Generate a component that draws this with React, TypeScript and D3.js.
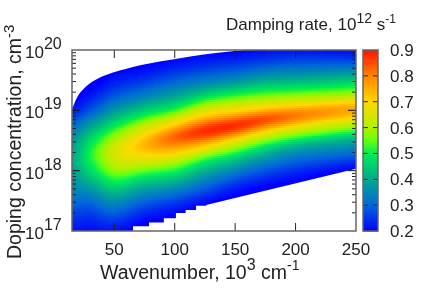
import React from 'react';
import * as d3 from 'd3';

// Damping rate. Each list is one wavenumber, going across the
// bright ridge: offsets are in decades of doping from ridgeLog at that wavenumber.
const wavenumbers = [15, 30, 50, 75, 100, 125, 150, 175, 200, 225, 250];
const ridgeLog = [18.2, 18.25, 18.32, 18.43, 18.56, 18.65, 18.74, 18.84, 18.91, 18.97, 19.02];
const offsets = [-1.5, -1.25, -1, -0.75, -0.5, -0.25, 0, 0.25, 0.5, 0.75, 1, 1.25, 1.5];
const dampingRate = [
  [0.18, 0.21, 0.25, 0.3, 0.35, 0.38, 0.4, 0.38, 0.32, 0.24, 0.19, 0.18, 0.18],
  [0.18, 0.21, 0.25, 0.31, 0.39, 0.47, 0.51, 0.47, 0.38, 0.28, 0.22, 0.18, 0.18],
  [0.19, 0.23, 0.3, 0.39, 0.5, 0.6, 0.64, 0.57, 0.45, 0.34, 0.26, 0.21, 0.18],
  [0.17, 0.21, 0.28, 0.38, 0.51, 0.66, 0.74, 0.65, 0.49, 0.36, 0.27, 0.21, 0.18],
  [0.17, 0.21, 0.29, 0.41, 0.55, 0.72, 0.83, 0.67, 0.48, 0.36, 0.27, 0.21, 0.18],
  [0.15, 0.19, 0.27, 0.37, 0.5, 0.71, 0.88, 0.72, 0.53, 0.37, 0.27, 0.21, 0.18],
  [0.15, 0.18, 0.24, 0.34, 0.48, 0.68, 0.88, 0.7, 0.52, 0.36, 0.26, 0.2, 0.18],
  [0.15, 0.17, 0.23, 0.32, 0.45, 0.65, 0.85, 0.66, 0.49, 0.35, 0.25, 0.2, 0.18],
  [0.15, 0.17, 0.22, 0.3, 0.42, 0.63, 0.81, 0.63, 0.46, 0.33, 0.24, 0.19, 0.18],
  [0.13, 0.16, 0.21, 0.3, 0.42, 0.62, 0.78, 0.6, 0.44, 0.31, 0.22, 0.18, 0.18],
  [0.12, 0.15, 0.2, 0.3, 0.42, 0.62, 0.76, 0.58, 0.43, 0.29, 0.2, 0.18, 0.18],
];

// edges of the region that has data
const upperK = [15, 20, 25.5, 33.8, 44.8, 58.6, 72.3, 94.4, 134, 165, 250];
const upperLog = [19.02, 19.24, 19.375, 19.5, 19.6, 19.68, 19.75, 19.83, 19.95, 20, 20];
const stairK = [15, 65.5, 78.7, 91, 101, 109, 117.6, 126];
const stairLog = [17, 17, 17.08, 17.14, 17.21, 17.3, 17.35, 17.42];
const slopeK = [126, 250];
const slopeLog = [17.43, 18.03];

const xTicks = [50, 100, 150, 200, 250];
const yMajor = [17, 18, 19, 20];
const barTicks = [0.2, 0.3, 0.4, 0.5, 0.6, 0.7, 0.8, 0.9];

const colorStops = [0.2, 0.3, 0.4, 0.5, 0.55, 0.6, 0.7, 0.8, 0.9];
const colorValues = ['#0000ff', '#0068d8', '#00aa90', '#00ee55', '#66ff10', '#b4f000', '#ffd800', '#ff8400', '#ff1400'];

const left = 72, right = 356, top = 50, bottom = 231;
const barLeft = 363, barRight = 378;
const FONT = '"Liberation Sans", Arial, sans-serif';
const INK = '#222';

const x = d3.scaleLinear().domain([15, 250]).range([left, right]);
const y = d3.scaleLog().domain([1e17, 1e20]).range([bottom, top]);
const color = d3.scaleLinear<string>().domain(colorStops).range(colorValues).clamp(true);
const barY = d3.scaleLinear().domain([0.2, 0.9]).range([bottom, top]);

const colIndex = d3.scaleLinear().domain(wavenumbers).range(wavenumbers.map((_, i) => i)).clamp(true);
const rowIndex = d3.scaleLinear().domain(offsets).range(offsets.map((_, i) => i)).clamp(true);

function spline(p: number[], t: number) {
  const i = Math.min(Math.floor(t), p.length - 2);
  const f = t - i;
  const a = p[Math.max(i - 1, 0)], b = p[i], c = p[i + 1], d = p[Math.min(i + 2, p.length - 1)];
  return b + 0.5 * f * (c - a + f * (2 * a - 5 * b + 4 * c - d + f * (3 * (b - c) + d - a)));
}

function rateAt(k: number, logN: number) {
  const t = colIndex(k);
  const r = rowIndex(logN - spline(ridgeLog, t));
  return spline(dampingRate.map(col => spline(col, r)), t);
}

const logY = (v: number) => y(Math.pow(10, v));

function regionPath() {
  const up = d3.line<number>().x(k => x(k)).y((_, i) => logY(upperLog[i])).curve(d3.curveMonotoneX)(upperK)!;
  const slope = slopeK.map((k, i) => `${x(k)},${logY(slopeLog[i])}`).reverse();
  const stairs = d3.line<number>().x(k => x(k)).y((_, i) => logY(stairLog[stairLog.length - 1 - i])).curve(d3.curveStepAfter)([...stairK].reverse())!;
  return `${up}L${slope.join('L')}L${stairs.slice(1)}Z`;
}

function cells() {
  const out: React.ReactElement[] = [];
  const step = 2;
  for (let px = left; px < right; px += step) {
    for (let py = top; py < bottom; py += step) {
      const k = x.invert(px + step / 2);
      const n = Math.log10(y.invert(py + step / 2));
      out.push(<rect key={`${px}-${py}`} x={px} y={py} width={step} height={step} fill={color(rateAt(k, n))} />);
    }
  }
  return out;
}

export default function App() {
  const minor = y.ticks().filter(v => !yMajor.includes(Math.round(Math.log10(v) * 1000) / 1000));
  const barRows = d3.range(top, bottom);
  return (
    <svg width={428} height={297} style={{ position: 'absolute', left: 0, top: 0 }} fontFamily={FONT} fill={INK}>
      <defs>
        <clipPath id="region"><path d={regionPath()} /></clipPath>
        <filter id="soft" x="0" y="0" width="100%" height="100%"><feGaussianBlur stdDeviation="0.45" /></filter>
      </defs>
      <g filter="url(#soft)">
        <rect width={428} height={297} fill="#fff" />
        <g clipPath="url(#region)" shapeRendering="crispEdges">{cells()}</g>

        {xTicks.slice(0, -1).map(t => (
          <g key={t} stroke="#222" strokeWidth={1}>
            <line x1={x(t)} x2={x(t)} y1={bottom} y2={bottom - 8} />
            <line x1={x(t)} x2={x(t)} y1={top} y2={top + 8} />
          </g>
        ))}
        {minor.map(v => (
          <g key={v} stroke="#222" strokeWidth={1}>
            <line x1={left} x2={left + 4} y1={y(v)} y2={y(v)} />
            <line x1={right} x2={right - 4} y1={y(v)} y2={y(v)} />
          </g>
        ))}
        {yMajor.slice(1, -1).map(t => (
          <g key={t} stroke="#111" strokeWidth={1}>
            <line x1={left} x2={left + 8} y1={logY(t)} y2={logY(t)} />
            <line x1={right} x2={right - 8} y1={logY(t)} y2={logY(t)} />
          </g>
        ))}
        <rect x={left} y={top} width={right - left} height={bottom - top} fill="none" stroke="#666" strokeWidth={1.5} />

        {barRows.map(r => (
          <rect key={r} x={barLeft} y={r} width={barRight - barLeft} height={1.5} fill={color(barY.invert(r + 0.5))} />
        ))}
        {barTicks.slice(1, -1).map(t => (
          <g key={t} stroke="#222" strokeWidth={1}>
            <line x1={barLeft} x2={barLeft + 5} y1={barY(t)} y2={barY(t)} />
            <line x1={barRight} x2={barRight - 5} y1={barY(t)} y2={barY(t)} />
          </g>
        ))}
        <rect x={barLeft} y={top} width={barRight - barLeft} height={bottom - top} fill="none" stroke="#666" strokeWidth={1.5} />

        <g fontSize={17}>
          {xTicks.map(t => (
            <text key={t} x={x(t)} y={255} textAnchor="middle">{t}</text>
          ))}
          {yMajor.map(t => (
            <text key={t} x={25} y={logY(t) + 8}>
              10<tspan dy={-9} fontSize={16}>{t}</tspan>
            </text>
          ))}
          {barTicks.map(t => (
            <text key={t} x={390} y={barY(t) + 6}>{t.toFixed(1)}</text>
          ))}
        </g>
        <text x={100} y={279} fontSize={19.5}>
          Wavenumber, 10<tspan dy={-9} fontSize={16}>3</tspan><tspan dy={9}> cm</tspan><tspan dy={-9} fontSize={14}>-1</tspan>
        </text>
        <text transform="translate(21,259) rotate(-90)" fontSize={19.5}>
          Doping concentration, cm<tspan dy={-7} fontSize={15}>-3</tspan>
        </text>
        <text x={226} y={30} fontSize={17}>
          Damping rate, 10<tspan dy={-7} fontSize={14}>12</tspan><tspan dy={7}> s</tspan><tspan dy={-7} fontSize={12}>-1</tspan>
        </text>
      </g>
    </svg>
  );
}
